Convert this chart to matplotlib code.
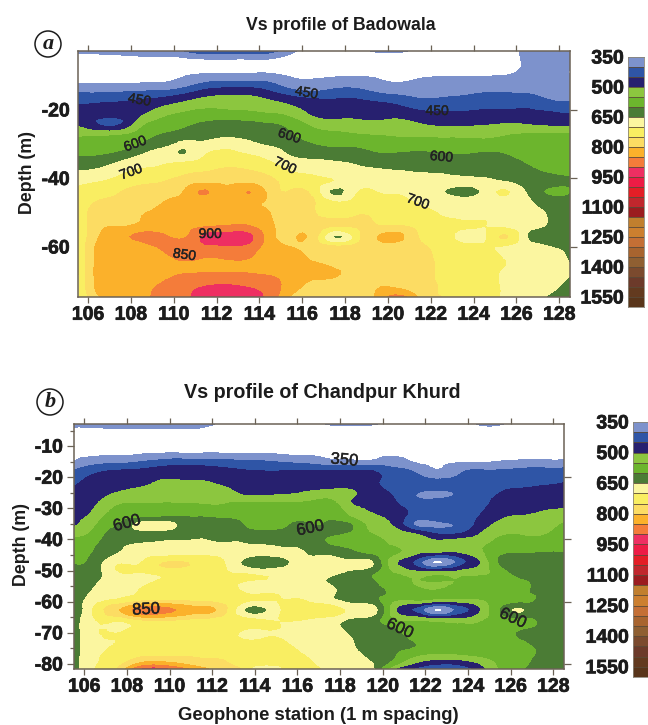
import numpy as np
import matplotlib
matplotlib.use("Agg")
from matplotlib import pyplot as plt
from matplotlib.colors import ListedColormap, BoundaryNorm
from matplotlib.patches import Ellipse
import matplotlib.patheffects as pe
import matplotlib.tri as mtri

plt.rcParams['font.family'] = ['Liberation Sans', 'DejaVu Sans']
plt.rcParams['font.weight'] = 'bold'
plt.rcParams['axes.unicode_minus'] = False

# Velocity classes (m/s) and their colours, top to bottom of the colour bar
vs_levels = list(range(350, 1650, 50))
vs_colors = ['#7d92cc', '#2f55a6', '#27206f', '#8cc63f', '#6cb52d', '#4b7c35',
             '#fbf6a0', '#f9ee62', '#fcdc63', '#fbb12b', '#f47c3a', '#ee2f62',
             '#ed1c45', '#e31e26', '#c0272d', '#9b1c1f', '#c17f2e', '#cc7f2f',
             '#c46f35', '#a8642f', '#8f5f32', '#7b4a2e', '#6c3a2a', '#633a1f',
             '#59351a']
bar_ticks = [350, 500, 650, 800, 950, 1100, 1250, 1400, 1550]

stations = [105.5 + i for i in range(24)]

# Panel a: Badowala. One list per station, values down the depths
depths_a = [2.8, 6, 9, 12, 15, 18, 21, 24, 27, 30, 33, 36, 39, 41, 44, 47, 51, 54, 57, 60, 63, 67, 71, 74.6]
vs_a = [
    [355, 335, 335, 345, 400, 443, 469, 492, 533, 567, 592, 629, 665, 688, 708, 715, 718, 700, 695, 692, 690, 688, 685, 680],
    [360, 335, 335, 345, 400, 450, 471, 445, 533, 568, 595, 636, 675, 700, 730, 755, 773, 787, 800, 812, 815, 818, 815, 795],
    [365, 335, 335, 345, 404, 456, 475, 445, 540, 578, 615, 665, 700, 720, 750, 765, 785, 800, 840, 815, 820, 825, 825, 820],
    [375, 335, 335, 348, 412, 464, 491, 533, 570, 600, 650, 688, 720, 740, 770, 780, 800, 815, 865, 825, 825, 830, 835, 835],
    [380, 335, 335, 350, 417, 483, 533, 570, 600, 638, 670, 700, 730, 750, 775, 800, 808, 820, 860, 860, 840, 835, 855, 870],
    [400, 332, 340, 370, 440, 507, 555, 589, 620, 655, 650, 720, 750, 775, 805, 815, 822, 835, 845, 880, 860, 845, 880, 890],
    [430, 335, 345, 400, 475, 525, 570, 605, 632, 662, 700, 730, 760, 790, 855, 810, 825, 848, 915, 885, 850, 845, 895, 925],
    [430, 335, 345, 408, 485, 527, 565, 610, 637, 680, 715, 742, 770, 790, 815, 815, 830, 855, 925, 890, 855, 845, 900, 930],
    [430, 335, 345, 408, 485, 525, 560, 610, 635, 662, 700, 730, 765, 790, 852, 812, 825, 855, 915, 880, 852, 845, 890, 920],
    [420, 335, 345, 400, 460, 512, 550, 600, 622, 643, 680, 710, 745, 765, 780, 790, 802, 810, 820, 825, 830, 840, 870, 880],
    [360, 330, 340, 365, 425, 490, 530, 578, 600, 625, 645, 680, 710, 730, 755, 765, 775, 780, 790, 800, 812, 825, 825, 790],
    [340, 330, 340, 358, 410, 470, 490, 533, 570, 600, 635, 668, 700, 715, 735, 755, 760, 770, 778, 785, 795, 810, 790, 770],
    [345, 330, 340, 368, 422, 462, 485, 515, 560, 590, 625, 660, 685, 695, 635, 705, 735, 750, 645, 765, 785, 805, 780, 760],
    [340, 330, 342, 370, 425, 462, 485, 513, 550, 588, 622, 650, 668, 678, 695, 715, 750, 755, 720, 770, 785, 790, 775, 770],
    [355, 330, 340, 358, 400, 455, 480, 510, 545, 575, 605, 640, 665, 680, 700, 720, 740, 755, 800, 780, 785, 790, 795, 810],
    [355, 330, 338, 350, 388, 440, 481, 514, 541, 572, 605, 635, 660, 672, 695, 715, 735, 755, 815, 770, 780, 785, 785, 870],
    [340, 330, 340, 358, 383, 417, 463, 500, 537, 575, 608, 633, 655, 665, 680, 695, 715, 735, 745, 760, 770, 770, 770, 790],
    [320, 325, 340, 365, 388, 417, 456, 489, 533, 572, 604, 629, 653, 662, 655, 685, 700, 712, 715, 725, 735, 740, 745, 750],
    [320, 325, 340, 365, 392, 422, 456, 489, 533, 570, 600, 625, 645, 665, 632, 680, 695, 705, 685, 715, 720, 725, 730, 735],
    [320, 325, 340, 368, 400, 430, 461, 494, 529, 572, 606, 625, 644, 658, 665, 680, 693, 700, 690, 710, 715, 715, 715, 715],
    [340, 340, 345, 368, 400, 430, 462, 500, 543, 573, 600, 617, 633, 652, 705, 675, 680, 688, 755, 690, 695, 695, 695, 695],
    [356, 355, 362, 380, 398, 433, 461, 495, 550, 567, 583, 600, 615, 625, 645, 660, 672, 665, 652, 670, 680, 685, 685, 675],
    [375, 378, 382, 388, 392, 412, 456, 485, 552, 565, 578, 590, 603, 610, 595, 625, 648, 645, 630, 652, 668, 672, 665, 645],
    [378, 380, 345, 385, 388, 405, 450, 480, 553, 563, 575, 585, 597, 605, 598, 620, 630, 632, 635, 640, 645, 652, 640, 630],
]

# Panel b: Chandpur Khurd
depths_b = [2.9, 6, 9, 12, 15, 18, 21, 23.5, 25.5, 28, 30.5, 33, 35.3, 38, 41, 44.5, 47.4, 50.5, 53.5, 57, 60, 62.6, 65.5, 69, 73, 77, 79.5, 81.6]
vs_b = [
    [360, 335, 335, 340, 350, 405, 435, 455, 463, 472, 480, 485, 492, 530, 562, 580, 597, 610, 615, 615, 610, 590, 615, 620, 622, 625, 625, 625],
    [365, 335, 335, 340, 378, 438, 466, 476, 484, 492, 505, 525, 545, 565, 590, 605, 620, 625, 640, 660, 685, 710, 700, 695, 690, 690, 695, 700],
    [370, 335, 335, 340, 385, 455, 477, 490, 505, 535, 560, 580, 598, 617, 632, 648, 690, 695, 685, 695, 720, 790, 720, 695, 700, 715, 725, 745],
    [375, 335, 335, 342, 397, 458, 480, 501, 520, 545, 570, 595, 665, 625, 645, 672, 695, 700, 690, 700, 755, 870, 760, 710, 715, 735, 790, 880],
    [380, 335, 335, 345, 415, 470, 500, 516, 530, 545, 572, 605, 680, 630, 655, 680, 745, 715, 705, 715, 765, 875, 770, 715, 720, 740, 810, 915],
    [380, 335, 335, 345, 425, 470, 501, 517, 530, 545, 574, 607, 640, 632, 657, 682, 755, 718, 715, 725, 765, 840, 760, 718, 725, 745, 790, 870],
    [370, 335, 335, 345, 423, 468, 500, 515, 528, 544, 570, 603, 618, 635, 656, 682, 745, 715, 718, 728, 755, 820, 745, 720, 728, 745, 765, 820],
    [340, 335, 335, 345, 418, 460, 485, 505, 522, 543, 568, 597, 620, 633, 650, 680, 705, 705, 718, 722, 735, 770, 730, 715, 720, 740, 755, 770],
    [340, 335, 335, 343, 412, 452, 470, 485, 495, 548, 568, 585, 598, 620, 647, 672, 638, 692, 700, 700, 705, 648, 710, 700, 705, 720, 730, 740],
    [340, 335, 335, 343, 405, 450, 468, 482, 494, 550, 565, 575, 555, 620, 640, 665, 610, 680, 695, 697, 695, 646, 695, 700, 705, 715, 720, 645],
    [340, 335, 335, 342, 392, 452, 471, 488, 500, 550, 563, 578, 593, 617, 635, 660, 645, 672, 685, 692, 705, 715, 705, 695, 700, 710, 715, 720],
    [340, 335, 335, 342, 382, 455, 474, 491, 512, 553, 570, 587, 604, 620, 630, 648, 665, 680, 668, 690, 700, 725, 700, 680, 680, 695, 705, 715],
    [352, 335, 335, 342, 365, 452, 475, 494, 525, 562, 580, 595, 607, 606, 595, 640, 672, 668, 645, 665, 675, 730, 685, 668, 668, 675, 685, 695],
    [352, 335, 335, 342, 362, 452, 475, 495, 508, 500, 525, 555, 603, 590, 585, 615, 665, 640, 625, 625, 640, 690, 645, 635, 655, 665, 680, 690],
    [352, 335, 335, 342, 360, 452, 462, 468, 475, 485, 495, 512, 528, 548, 570, 590, 655, 610, 605, 610, 625, 680, 625, 615, 620, 635, 650, 665],
    [340, 335, 335, 342, 370, 415, 428, 438, 447, 456, 468, 482, 495, 525, 540, 556, 515, 545, 570, 590, 545, 515, 545, 605, 615, 605, 580, 505],
    [335, 335, 335, 338, 345, 395, 415, 420, 402, 420, 435, 420, 395, 495, 535, 510, 440, 515, 548, 570, 530, 440, 530, 560, 598, 560, 505, 440],
    [335, 335, 335, 338, 342, 355, 408, 412, 382, 420, 430, 425, 385, 445, 520, 480, 340, 510, 550, 560, 500, 340, 500, 555, 575, 540, 470, 395],
    [335, 335, 335, 338, 345, 385, 408, 412, 405, 420, 428, 425, 405, 445, 525, 485, 410, 515, 552, 575, 505, 410, 505, 560, 585, 545, 470, 410],
    [352, 335, 335, 338, 347, 408, 415, 420, 425, 430, 440, 452, 465, 495, 530, 530, 490, 535, 560, 575, 530, 490, 530, 570, 590, 560, 505, 470],
    [352, 335, 335, 338, 352, 407, 428, 442, 453, 468, 480, 495, 512, 540, 565, 590, 605, 570, 570, 570, 568, 600, 570, 572, 580, 575, 560, 555],
    [340, 335, 335, 340, 358, 415, 432, 450, 462, 475, 488, 505, 520, 545, 567, 600, 620, 625, 590, 590, 590, 655, 590, 598, 595, 590, 590, 595],
    [335, 335, 335, 340, 360, 418, 438, 456, 466, 480, 497, 515, 530, 545, 568, 603, 615, 620, 612, 610, 610, 612, 608, 610, 608, 604, 610, 615],
    [335, 335, 335, 340, 360, 420, 445, 465, 475, 485, 503, 535, 555, 568, 580, 602, 615, 620, 620, 620, 620, 650, 620, 620, 620, 620, 620, 620],
]

# Contour labels: text, station, depth, rotation
labels_a = [('450', 108.4, -17.1, -10), ('450', 116.2, -15, -10), ('450', 122.3, -20.3, 0),
            ('600', 108.2, -29.9, 20), ('600', 115.4, -27.6, -18), ('600', 122.5, -33.7, -5),
            ('700', 108, -38.1, 20), ('700', 115.2, -36.3, -25), ('700', 121.4, -46.8, -20),
            ('900', 111.7, -56.2, 0), ('850', 110.5, -62.3, -8)]
labels_b = [('350', 118.2, -14.5, -5), ('600', 108, -34.8, 15), ('600', 116.6, -36.4, 12),
            ('850', 108.9, -62.5, 3), ('600', 120.8, -68.6, -25), ('600', 126.1, -65.3, -25)]

W, H = 648, 725
frame = '#6b6256'
ink = '#1c1c1c'
thick = [pe.withStroke(linewidth=0.5, foreground=ink)]
thin_stroke = [pe.withStroke(linewidth=0.3, foreground='#222222')]

cmap = ListedColormap(vs_colors)
cmap.set_under('white')
norm = BoundaryNorm(vs_levels, cmap.N)

fig = plt.figure(figsize=(W / 100, H / 100), dpi=100)


def px_axes(left, top, right, bottom):
    return fig.add_axes([left / W, 1 - bottom / H, (right - left) / W, (bottom - top) / H])


def draw_panel(box, depths, vs, xlim, ylim, yticks, yminor, left_len, right_ticks, labels, label_size):
    ax = px_axes(*box)
    xx, yy = np.meshgrid(stations, -np.array(depths))
    grid = np.array(vs).T
    # the library's cubic refiner rounds off the contour corners
    tri = mtri.Triangulation(xx.ravel(), yy.ravel() / 3)
    tri_fine, grid_fine = mtri.UniformTriRefiner(tri).refine_field(grid.ravel().astype(float), subdiv=2)
    ax.tricontourf(tri_fine.x, tri_fine.y * 3, tri_fine.triangles, grid_fine, levels=vs_levels, cmap=cmap,
                   norm=norm, extend='min')
    ax.set_xlim(xlim)
    ax.set_ylim(ylim)
    ax.set_xticks(range(106, 129, 2))
    ax.set_yticks(yticks)
    ax.set_yticks(yminor, minor=True)
    ax.tick_params(axis='x', which='major', top=True, direction='out', length=4, width=0.9, color=frame,
                   labelsize=14, labelcolor=ink, pad=3)
    ax.tick_params(axis='y', which='both', direction='out', width=0.9, color=frame, labelsize=14, labelcolor=ink,
                   pad=6 if left_len == 0 else 3)
    ax.tick_params(axis='y', which='major', length=left_len)
    ax.tick_params(axis='y', which='minor', length=3)
    for s in ax.spines.values():
        s.set_color(frame)
        s.set_linewidth(1.1)
    for t in ax.get_xticklabels() + ax.get_yticklabels():
        t.set_path_effects(thick)
    sec = ax.secondary_yaxis('right')
    sec.set_yticks(right_ticks)
    sec.set_yticklabels([])
    sec.tick_params(direction='out', length=5, width=0.9, color=frame)
    sec.spines['right'].set_visible(False)
    for txt, x, y, rot in labels:
        ax.text(x, y, txt, fontsize=label_size, fontweight='normal', color='#222222', rotation=rot,
                ha='center', va='center', path_effects=thin_stroke)


def draw_bar(box):
    cax = px_axes(*box)
    values = np.array(vs_levels[:-1], dtype=float).reshape(-1, 1) + 25
    cax.pcolormesh([0, 1], vs_levels, values, cmap=cmap, norm=norm)
    cax.hlines(vs_levels[1:-1], 0, 1, color='#5a4a38', linewidth=0.6)
    cax.set_xlim(0, 1)
    cax.set_ylim(1600, 350)
    cax.set_xticks([])
    cax.set_yticks(bar_ticks)
    cax.tick_params(length=0, labelsize=14, labelcolor=ink, pad=3)
    for t in cax.get_yticklabels():
        t.set_path_effects(thick)
    for s in cax.spines.values():
        s.set_color('#8a8478')
        s.set_linewidth(0.6)


draw_panel((78, 51, 570, 297), depths_a, vs_a, (105.53, 128.5), (-74.6, -2.8),
           [-20, -40, -60], [], 0, [-20, -40, -60], labels_a, 10)
draw_bar((628, 57, 644, 307))

draw_panel((74, 424, 564, 669), depths_b, vs_b, (105.52, 128.5), (-81.6, -2.9),
           [-10, -20, -30, -40, -50, -60, -70, -80], list(range(-75, 0, 10)), 5, [-20, -40, -60, -80], labels_b, 12)
draw_bar((633, 422, 649, 677))

fig.text(341 / W, 1 - 26 / H, 'Vs profile of Badowala', fontsize=12.7, ha='center', va='center', color=ink)
fig.text(322 / W, 1 - 393 / H, 'Vs profile of Chandpur Khurd', fontsize=14.2, ha='center', va='center', color=ink)
fig.text(27 / W, 1 - 173 / H, 'Depth (m)', fontsize=12.8, rotation=90, ha='center', va='center', color=ink)
fig.text(21 / W, 1 - 545 / H, 'Depth (m)', fontsize=12.8, rotation=90, ha='center', va='center', color=ink)
fig.text(318 / W, 1 - 715 / H, 'Geophone station (1 m spacing)', fontsize=13.3, ha='center', va='center', color=ink)

for letter, px, py in [('a', 48, 44), ('b', 50, 402)]:
    fig.text(px / W, 1 - py / H, letter, family='Liberation Serif', style='italic', fontweight='bold',
             fontsize=16, ha='center', va='center', color=ink)
    fig.add_artist(Ellipse((px / W, 1 - py / H), 26 / W, 26 / H, transform=fig.transFigure, fill=False,
                           edgecolor=ink, linewidth=1.1))

fig.savefig('out.png', dpi=100)
